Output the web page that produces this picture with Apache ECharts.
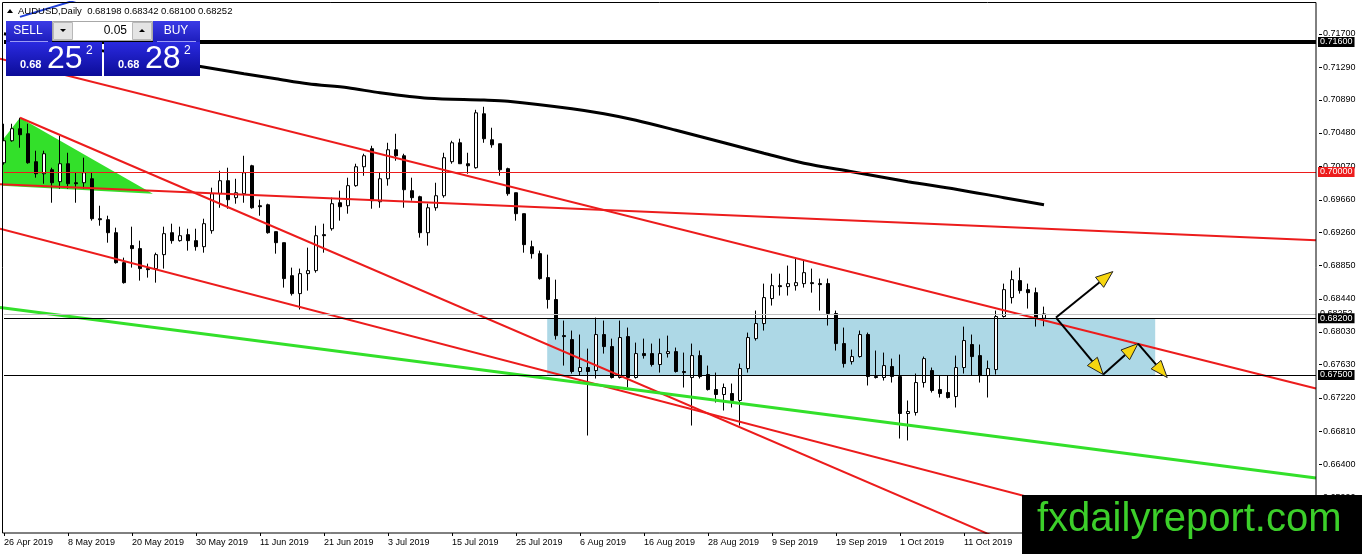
<!DOCTYPE html>
<html>
<head>
<meta charset="utf-8">
<title>AUDUSD,Daily</title>
<script src="https://cdn.jsdelivr.net/npm/echarts@6.0.0/dist/echarts.min.js"></script>
<style>
html,body{margin:0;padding:0;background:#fff;overflow:hidden;}
#chart{width:1362px;height:554px;}
</style>
</head>
<body>
<div id="chart"></div>
<script>
// ---------- categories (trading days) ----------
const dates = [
'26 Apr 2019','29 Apr 2019','30 Apr 2019',
'1 May 2019','2 May 2019','3 May 2019','6 May 2019','7 May 2019','8 May 2019','9 May 2019','10 May 2019','13 May 2019','14 May 2019','15 May 2019','16 May 2019','17 May 2019','20 May 2019','21 May 2019','22 May 2019','23 May 2019','24 May 2019','27 May 2019','28 May 2019','29 May 2019','30 May 2019','31 May 2019',
'3 Jun 2019','4 Jun 2019','5 Jun 2019','6 Jun 2019','7 Jun 2019','10 Jun 2019','11 Jun 2019','12 Jun 2019','13 Jun 2019','14 Jun 2019','17 Jun 2019','18 Jun 2019','19 Jun 2019','20 Jun 2019','21 Jun 2019','24 Jun 2019','25 Jun 2019','26 Jun 2019','27 Jun 2019','28 Jun 2019',
'1 Jul 2019','2 Jul 2019','3 Jul 2019','4 Jul 2019','5 Jul 2019','8 Jul 2019','9 Jul 2019','10 Jul 2019','11 Jul 2019','12 Jul 2019','15 Jul 2019','16 Jul 2019','17 Jul 2019','18 Jul 2019','19 Jul 2019','22 Jul 2019','23 Jul 2019','24 Jul 2019','25 Jul 2019','26 Jul 2019','29 Jul 2019','30 Jul 2019','31 Jul 2019',
'1 Aug 2019','2 Aug 2019','5 Aug 2019','6 Aug 2019','7 Aug 2019','8 Aug 2019','9 Aug 2019','12 Aug 2019','13 Aug 2019','14 Aug 2019','15 Aug 2019','16 Aug 2019','19 Aug 2019','20 Aug 2019','21 Aug 2019','22 Aug 2019','23 Aug 2019','26 Aug 2019','27 Aug 2019','28 Aug 2019','29 Aug 2019','30 Aug 2019',
'2 Sep 2019','3 Sep 2019','4 Sep 2019','5 Sep 2019','6 Sep 2019','9 Sep 2019','10 Sep 2019','11 Sep 2019','12 Sep 2019','13 Sep 2019','16 Sep 2019','17 Sep 2019','18 Sep 2019','19 Sep 2019','20 Sep 2019','23 Sep 2019','24 Sep 2019','25 Sep 2019','26 Sep 2019','27 Sep 2019','30 Sep 2019',
'1 Oct 2019','2 Oct 2019','3 Oct 2019','4 Oct 2019','7 Oct 2019','8 Oct 2019','9 Oct 2019','10 Oct 2019','11 Oct 2019','14 Oct 2019','15 Oct 2019','16 Oct 2019','17 Oct 2019','18 Oct 2019','21 Oct 2019','22 Oct 2019','23 Oct 2019','24 Oct 2019','25 Oct 2019'
];
const futureDates = [
'28 Oct 2019','29 Oct 2019','30 Oct 2019','31 Oct 2019','1 Nov 2019','4 Nov 2019','5 Nov 2019','6 Nov 2019','7 Nov 2019','8 Nov 2019','11 Nov 2019','12 Nov 2019','13 Nov 2019','14 Nov 2019','15 Nov 2019','18 Nov 2019','19 Nov 2019','20 Nov 2019','21 Nov 2019','22 Nov 2019','25 Nov 2019','26 Nov 2019','27 Nov 2019','28 Nov 2019','29 Nov 2019','2 Dec 2019','3 Dec 2019','4 Dec 2019','5 Dec 2019','6 Dec 2019','9 Dec 2019','10 Dec 2019','11 Dec 2019','12 Dec 2019'
];

// ---------- OHLC ----------
const opens = [
0.70113,0.70384,0.70532,0.70470,0.70126,0.69978,0.70027,0.69880,0.70101,0.69867,
0.69867,0.69916,0.69424,0.69412,0.69252,0.68883,0.69093,0.69056,0.68810,0.68810,
0.68982,0.69252,0.69154,0.69228,0.69154,0.69080,0.69277,0.69732,0.69892,0.69683,
0.69732,0.70076,0.69584,0.69596,0.69265,0.69129,0.68723,0.68502,0.68748,0.68785,
0.69228,0.69301,0.69621,0.69584,0.69831,0.70064,0.70286,0.69633,0.69916,0.70273,
0.70199,0.69769,0.69695,0.69252,0.69559,0.69707,0.70126,0.70359,0.70101,0.70052,
0.70716,0.70396,0.70347,0.70040,0.69744,0.69486,0.69080,0.68994,0.68699,0.68429,
0.67985,0.67936,0.67543,0.67592,0.67555,0.67998,0.67850,0.67469,0.67973,0.67469,
0.67764,0.67764,0.67629,0.67764,0.67788,0.67543,0.67469,0.67739,0.67506,0.67321,
0.67260,0.67272,0.67186,0.67579,0.67948,0.68133,0.68441,0.68600,0.68588,0.68600,
0.68625,0.68637,0.68625,0.68625,0.68257,0.67887,0.67665,0.67727,0.67998,0.67481,
0.67469,0.67604,0.67481,0.67026,0.67038,0.67407,0.67555,0.67321,0.67284,0.67235,
0.67592,0.67875,0.67739,0.67493,0.67567,0.68220,0.68453,0.68662,0.68551,0.68514,
0.68198];
const closes = [
0.70384,0.70532,0.70458,0.70113,0.69978,0.70224,0.69867,0.70101,0.69855,0.69855,
0.69990,0.69424,0.69412,0.69252,0.68883,0.68637,0.69056,0.68810,0.68797,0.68982,
0.69240,0.69154,0.69215,0.69154,0.69080,0.69363,0.69732,0.69892,0.69658,0.69744,
0.69990,0.69559,0.69572,0.69252,0.69129,0.68687,0.68502,0.68748,0.68785,0.69215,
0.69215,0.69609,0.69572,0.69831,0.70064,0.70199,0.69646,0.69916,0.70273,0.70199,
0.69781,0.69683,0.69252,0.69559,0.69707,0.70175,0.70359,0.70101,0.70076,0.70728,
0.70409,0.70334,0.70027,0.69732,0.69486,0.69105,0.68994,0.68687,0.68429,0.67985,
0.67973,0.67543,0.67592,0.67543,0.67998,0.67850,0.67469,0.67961,0.67469,0.67764,
0.67739,0.67629,0.67764,0.67788,0.67543,0.67530,0.67739,0.67481,0.67321,0.67260,
0.67346,0.67186,0.67579,0.67961,0.68133,0.68453,0.68600,0.68588,0.68625,0.68637,
0.68760,0.68625,0.68613,0.68257,0.67887,0.67641,0.67727,0.67998,0.67481,0.67469,
0.67616,0.67481,0.67026,0.67051,0.67407,0.67702,0.67309,0.67272,0.67223,0.67592,
0.67924,0.67727,0.67493,0.67579,0.68220,0.68551,0.68674,0.68539,0.68514,0.68195,
0.68252];
const lows = [
0.70090,0.70372,0.70298,0.70101,0.69929,0.69855,0.69621,0.69794,0.69794,0.69621,
0.69794,0.69400,0.69338,0.69129,0.68871,0.68625,0.68822,0.68662,0.68699,0.68637,
0.68810,0.69117,0.69142,0.69031,0.69031,0.69006,0.69240,0.69559,0.69547,0.69609,
0.69621,0.69547,0.69461,0.69240,0.68994,0.68576,0.68478,0.68306,0.68539,0.68760,
0.69006,0.69277,0.69400,0.69486,0.69818,0.69953,0.69547,0.69559,0.69831,0.70138,
0.69559,0.69646,0.69191,0.69093,0.69523,0.69683,0.70101,0.70101,0.69978,0.70040,
0.70359,0.70298,0.69953,0.69707,0.69400,0.69006,0.68933,0.68674,0.68318,0.67936,
0.67616,0.67518,0.67493,0.66755,0.67457,0.67764,0.67457,0.67457,0.67346,0.67457,
0.67702,0.67604,0.67530,0.67715,0.67530,0.67346,0.66878,0.67457,0.67309,0.67161,
0.67063,0.67100,0.66878,0.67530,0.67924,0.68047,0.68355,0.68478,0.68478,0.68539,
0.68576,0.68514,0.68293,0.68109,0.67801,0.67592,0.67629,0.67715,0.67371,0.67457,
0.67432,0.67407,0.66718,0.66694,0.67001,0.67346,0.67284,0.67223,0.67211,0.67100,
0.67518,0.67493,0.67407,0.67223,0.67506,0.68207,0.68380,0.68502,0.68318,0.68096,
0.68100];
const highs = [
0.70593,0.70593,0.70667,0.70593,0.70261,0.70261,0.70052,0.70446,0.70236,0.69990,
0.70175,0.69990,0.69584,0.69461,0.69314,0.68945,0.69326,0.69154,0.68871,0.69006,
0.69326,0.69363,0.69326,0.69301,0.69301,0.69424,0.69806,0.70015,0.70052,0.69916,
0.70199,0.70088,0.69658,0.69609,0.69265,0.69129,0.68822,0.68810,0.69068,0.69338,
0.69363,0.69683,0.69769,0.69929,0.70101,0.70224,0.70322,0.69990,0.70359,0.70470,
0.70224,0.69929,0.69707,0.69609,0.69867,0.70236,0.70384,0.70409,0.70236,0.70765,
0.70802,0.70544,0.70347,0.70052,0.69744,0.69486,0.69154,0.69031,0.68982,0.68674,
0.68170,0.68047,0.67998,0.67825,0.68207,0.68170,0.67948,0.68170,0.68084,0.67899,
0.67948,0.67887,0.67948,0.67985,0.67838,0.67776,0.67887,0.67801,0.67616,0.67530,
0.67395,0.67395,0.67641,0.68022,0.68293,0.68625,0.68748,0.68748,0.68847,0.68933,
0.68908,0.68810,0.68687,0.68687,0.68293,0.68084,0.67813,0.68047,0.68022,0.67801,
0.67776,0.67702,0.67752,0.67186,0.67518,0.67727,0.67592,0.67493,0.67493,0.67739,
0.68096,0.67998,0.67875,0.67678,0.68293,0.68625,0.68785,0.68822,0.68625,0.68576,
0.68342];

// ---------- moving average (read at sampled bars) ----------
const maIdx = [0, 8, 16, 24, 30, 34, 38, 43, 47, 53, 60, 63, 71, 75, 79, 84, 90, 95, 100, 106, 113, 119, 125, 130];
const maVal = [0.71700, 0.71565, 0.71429, 0.71306, 0.71208, 0.71147, 0.71085, 0.71036, 0.70974, 0.70907, 0.70885, 0.70870, 0.70778, 0.70716, 0.70636, 0.70513, 0.70359, 0.70230, 0.70107, 0.70003, 0.69880, 0.69788, 0.69683, 0.69597];

// ---------- price axis ----------
const yTicks = [0.71700, 0.71290, 0.70890, 0.70480, 0.70070, 0.69660, 0.69260, 0.68850, 0.68440, 0.68030, 0.67630, 0.67220, 0.66810, 0.66400, 0.65990];
const yMin = 0.65555, yMax = 0.72092;

// ---------- horizontal levels ----------
const levelPrices = [0.71600, 0.70000, 0.68252, 0.68200, 0.67500];

// ---------- drawn objects: [bar index, price] ----------
const redLineA = [[-0.5, 0.71393], [164, 0.67334]];
const redLineB = [[2, 0.70667], [136.5, 0.64972]];
const redLineC = [[-0.5, 0.69302], [164, 0.65074]];
const redLineD = [[-0.5, 0.69848], [164, 0.69160]];
const greenLine = [[-0.5, 0.68330], [164, 0.66233]];
const blueLine = [[2, 0.71909], [9.9, 0.72143]];
const triangleX = [-0.25, 2, 18.6, -0.25];
const triangleY = [0.70384, 0.70667, 0.69732, 0.69831];
const zoneBox = [[67.9, 0.68200, 143.9, 0.67500]];
const arrowSegs = [
  [131.5, 0.68207, 138.6, 0.68773],
  [131.5, 0.68207, 137.4, 0.67506],
  [137.4, 0.67506, 141.75, 0.67887],
  [141.75, 0.67887, 145.4, 0.67469]
];

// ---------- header / trade panel ----------
const symbolName = 'AUDUSD', periodName = 'Daily';
const askPrice = 0.68282;
const lotSize = '0.05';

// ================= build chart =================
const FONT = 'Liberation Sans';
const RED = '#ec1c1c';
const GREEN = '#33e02a';
const categories = dates.concat(futureDates);
const lastCat = categories.length - 1;
const nBars = opens.length;
const candleData = opens.map((o, k) => [o, closes[k], lows[k], highs[k]]);
const L = nBars - 1;

function seg(data, color, width) {
  return {
    type: 'line', xAxisIndex: 1, yAxisIndex: 0, data: data, symbol: 'none',
    silent: true, z: 3, clip: true, animation: false,
    lineStyle: { color: color, width: width }
  };
}

const levelStyle = [
  { line: '#000', width: 4, bg: '#000', fg: '#fff' },
  { line: RED, width: 1, bg: RED, fg: '#fff' },
  { line: '#c0c0c0', width: 1, bg: '#ffffff', fg: '#000' },
  { line: '#000', width: 1, bg: '#000', fg: '#fff' },
  { line: '#000', width: 1, bg: '#000', fg: '#fff' }
];

const markLineData = levelPrices.map((v, k) => [
  {
    coord: [0, v],
    lineStyle: { color: levelStyle[k].line, width: levelStyle[k].width, type: 'solid' },
    label: {
      show: true, position: 'end', distance: 2,
      formatter: () => v.toFixed(5),
      backgroundColor: levelStyle[k].bg, color: levelStyle[k].fg,
      padding: [1, 2, 0, 2], fontSize: 9, fontFamily: FONT, lineHeight: 9
    }
  },
  { coord: [lastCat, v] }
]);

function priceParts(v) {
  const s = v.toFixed(5);
  return [s.slice(0, 4), s.slice(4, 6), s.slice(6)];
}
const bidParts = priceParts(closes[L]);
const askParts = priceParts(askPrice);
const titleText = symbolName + ',' + periodName + '  ' +
  [opens[L], highs[L], lows[L], closes[L]].map(v => v.toFixed(5)).join(' ');

function grad(c1, c2) {
  return new echarts.graphic.LinearGradient(0, 0, 0, 1, [{ offset: 0, color: c1 }, { offset: 1, color: c2 }]);
}

const chart = echarts.init(document.getElementById('chart'));

const option = {
  animation: false,
  backgroundColor: '#ffffff',
  grid: { left: 0, right: 42, top: 2, bottom: 21, containLabel: false, outerBoundsMode: 'none', show: false },
  xAxis: [
    {
      type: 'category', data: categories, boundaryGap: true,
      axisLine: { show: false },
      axisTick: { show: true, interval: 7, alignWithLabel: true, length: 3, lineStyle: { color: '#000' } },
      axisLabel: { interval: 7, align: 'left', margin: 5, fontSize: 9, fontFamily: FONT, color: '#000' },
      splitLine: { show: false }
    },
    { type: 'value', min: -0.5, max: lastCat + 0.5, show: false }
  ],
  yAxis: [{
    type: 'value', position: 'right', offset: -4, min: yMin, max: yMax, scale: true,
    axisLine: { show: false },
    axisTick: { show: false },
    axisLabel: { customValues: yTicks, formatter: v => v.toFixed(5), margin: 7, fontSize: 9, fontFamily: FONT, color: '#000' },
    splitLine: { show: false }
  }],
  series: [
    {
      type: 'custom', xAxisIndex: 1, yAxisIndex: 0, z: 1, silent: true, data: zoneBox,
      renderItem: (params, api) => {
        const a = api.coord([api.value(0), api.value(1)]);
        const b = api.coord([api.value(2), api.value(3)]);
        return {
          type: 'rect',
          shape: { x: Math.min(a[0], b[0]), y: Math.min(a[1], b[1]), width: Math.abs(b[0] - a[0]), height: Math.abs(b[1] - a[1]) },
          style: { fill: '#add8e6' }
        };
      }
    },
    {
      type: 'custom', xAxisIndex: 1, yAxisIndex: 0, z: 1, silent: true,
      data: triangleX.map((x, k) => [x, triangleY[k]]),
      renderItem: (params, api) => {
        if (params.dataIndex !== 0) return null;
        const pts = triangleX.map((x, k) => api.coord([x, triangleY[k]]));
        return { type: 'polygon', shape: { points: pts }, style: { fill: GREEN } };
      }
    },
    {
      type: 'candlestick', xAxisIndex: 0, yAxisIndex: 0, z: 2, silent: true,
      data: candleData, barWidth: 4,
      itemStyle: { color: '#ffffff', color0: '#000000', borderColor: '#000000', borderColor0: '#000000', borderWidth: 1 },
      emphasis: { disabled: true },
      markLine: { silent: true, symbol: ['none', 'none'], animation: false, z: 4, data: markLineData }
    },
    seg(redLineA, RED, 2),
    seg(redLineB, RED, 2),
    seg(redLineC, RED, 2),
    seg(redLineD, RED, 2),
    seg(greenLine, GREEN, 3),
    seg(blueLine, '#2040d8', 2),
    {
      type: 'line', xAxisIndex: 1, yAxisIndex: 0, z: 3, silent: true, symbol: 'none', smooth: 0.3,
      data: maIdx.map((x, k) => [x, maVal[k]]),
      lineStyle: { color: '#000', width: 3 }
    },
    {
      // price-axis tick marks at the right frame edge
      type: 'custom', xAxisIndex: 1, yAxisIndex: 0, z: 6, silent: true, clip: false,
      data: yTicks.map(v => [lastCat, v]),
      renderItem: (params, api) => {
        const p = api.coord([api.value(0), api.value(1)]);
        return { type: 'line', shape: { x1: p[0] + 3, y1: Math.round(p[1]) + 0.5, x2: p[0] + 6, y2: Math.round(p[1]) + 0.5 }, style: { stroke: '#000', lineWidth: 1 } };
      }
    },
    {
      type: 'custom', xAxisIndex: 1, yAxisIndex: 0, z: 5, silent: true, data: arrowSegs,
      renderItem: (params, api) => {
        const p1 = api.coord([api.value(0), api.value(1)]);
        const p2 = api.coord([api.value(2), api.value(3)]);
        const dx = p2[0] - p1[0], dy = p2[1] - p1[1];
        const len = Math.hypot(dx, dy) || 1;
        const ux = dx / len, uy = dy / len;
        const AL = 17, AW = 6.5;
        const bx = p2[0] - ux * AL, by = p2[1] - uy * AL;
        return {
          type: 'group', children: [
            { type: 'line', shape: { x1: p1[0], y1: p1[1], x2: bx, y2: by }, style: { stroke: '#000', lineWidth: 2 } },
            { type: 'polygon', shape: { points: [[p2[0], p2[1]], [bx - uy * AW, by + ux * AW], [bx + uy * AW, by - ux * AW]] },
              style: { fill: '#f6d610', stroke: '#222', lineWidth: 1 } }
          ]
        };
      }
    }
  ],
  graphic: [
    // chart frame
    { type: 'rect', z: 100, silent: true, shape: { x: 2.5, y: 2.5, width: 1313.5, height: 530.5 }, style: { fill: null, stroke: '#000', lineWidth: 1 } },
    // title
    { type: 'polygon', z: 101, silent: true, shape: { points: [[7, 13], [13, 13], [10, 9]] }, style: { fill: '#000' } },
    { type: 'text', z: 101, silent: true, x: 18, y: 11, style: { text: titleText, fontSize: 9.5, fontFamily: FONT, fill: '#000', verticalAlign: 'middle' } },
    // SELL header
    { type: 'rect', z: 101, silent: true, shape: { x: 6, y: 21, width: 46, height: 21 }, style: { fill: grad('#3b3be6', '#1d1dbc') } },
    { type: 'line', z: 102, silent: true, shape: { x1: 10, y1: 41.5, x2: 48, y2: 41.5 }, style: { stroke: '#9a9af5', lineWidth: 1 } },
    { type: 'text', z: 102, silent: true, x: 28, y: 31, style: { text: 'SELL', fontSize: 12, fontFamily: FONT, fill: '#fff', align: 'center', verticalAlign: 'middle' } },
    // spinner
    { type: 'rect', z: 101, silent: true, shape: { x: 52.5, y: 21.5, width: 100, height: 19 }, style: { fill: '#fff', stroke: '#a8a8a8', lineWidth: 1 } },
    { type: 'rect', z: 102, silent: true, shape: { x: 53.5, y: 22.5, width: 19, height: 17 }, style: { fill: '#e4e4e4', stroke: '#b8b8b8', lineWidth: 1 } },
    { type: 'polygon', z: 103, silent: true, shape: { points: [[60, 29], [66, 29], [63, 32]] }, style: { fill: '#000' } },
    { type: 'text', z: 102, silent: true, x: 127, y: 31, style: { text: lotSize, fontSize: 12, fontFamily: FONT, fill: '#000', align: 'right', verticalAlign: 'middle' } },
    { type: 'rect', z: 102, silent: true, shape: { x: 132.5, y: 22.5, width: 19, height: 17 }, style: { fill: '#e4e4e4', stroke: '#b8b8b8', lineWidth: 1 } },
    { type: 'polygon', z: 103, silent: true, shape: { points: [[139, 32], [145, 32], [142, 29]] }, style: { fill: '#000' } },
    // BUY header
    { type: 'rect', z: 101, silent: true, shape: { x: 153, y: 21, width: 47, height: 21 }, style: { fill: grad('#3b3be6', '#1d1dbc') } },
    { type: 'line', z: 102, silent: true, shape: { x1: 157, y1: 41.5, x2: 196, y2: 41.5 }, style: { stroke: '#9a9af5', lineWidth: 1 } },
    { type: 'text', z: 102, silent: true, x: 176, y: 31, style: { text: 'BUY', fontSize: 12, fontFamily: FONT, fill: '#fff', align: 'center', verticalAlign: 'middle' } },
    // SELL price box
    { type: 'rect', z: 101, silent: true, shape: { x: 6, y: 42, width: 96, height: 34 }, style: { fill: grad('#2a2ae0', '#0c0c98') } },
    { type: 'text', z: 102, silent: true, x: 20, y: 65, style: { text: bidParts[0], fontSize: 11, fontWeight: 'bold', fontFamily: FONT, fill: '#fff', verticalAlign: 'middle' } },
    { type: 'text', z: 102, silent: true, x: 47, y: 59, style: { text: bidParts[1], fontSize: 32, fontFamily: FONT, fill: '#fff', verticalAlign: 'middle' } },
    { type: 'text', z: 102, silent: true, x: 86, y: 51, style: { text: bidParts[2], fontSize: 12, fontFamily: FONT, fill: '#fff', verticalAlign: 'middle' } },
    // BUY price box
    { type: 'rect', z: 101, silent: true, shape: { x: 104, y: 42, width: 96, height: 34 }, style: { fill: grad('#2a2ae0', '#0c0c98') } },
    { type: 'text', z: 102, silent: true, x: 118, y: 65, style: { text: askParts[0], fontSize: 11, fontWeight: 'bold', fontFamily: FONT, fill: '#fff', verticalAlign: 'middle' } },
    { type: 'text', z: 102, silent: true, x: 145, y: 59, style: { text: askParts[1], fontSize: 32, fontFamily: FONT, fill: '#fff', verticalAlign: 'middle' } },
    { type: 'text', z: 102, silent: true, x: 184, y: 51, style: { text: askParts[2], fontSize: 12, fontFamily: FONT, fill: '#fff', verticalAlign: 'middle' } },
    // watermark
    { type: 'rect', z: 110, silent: true, shape: { x: 1022, y: 495, width: 340, height: 59 }, style: { fill: '#000' } },
    { type: 'text', z: 111, silent: true, x: 1037, y: 520, style: { text: 'fxdailyreport.com', fontSize: 40, fontFamily: FONT, fill: '#3ccf2a', verticalAlign: 'middle' } }
  ]
};

chart.setOption(option);
</script>
</body>
</html>
